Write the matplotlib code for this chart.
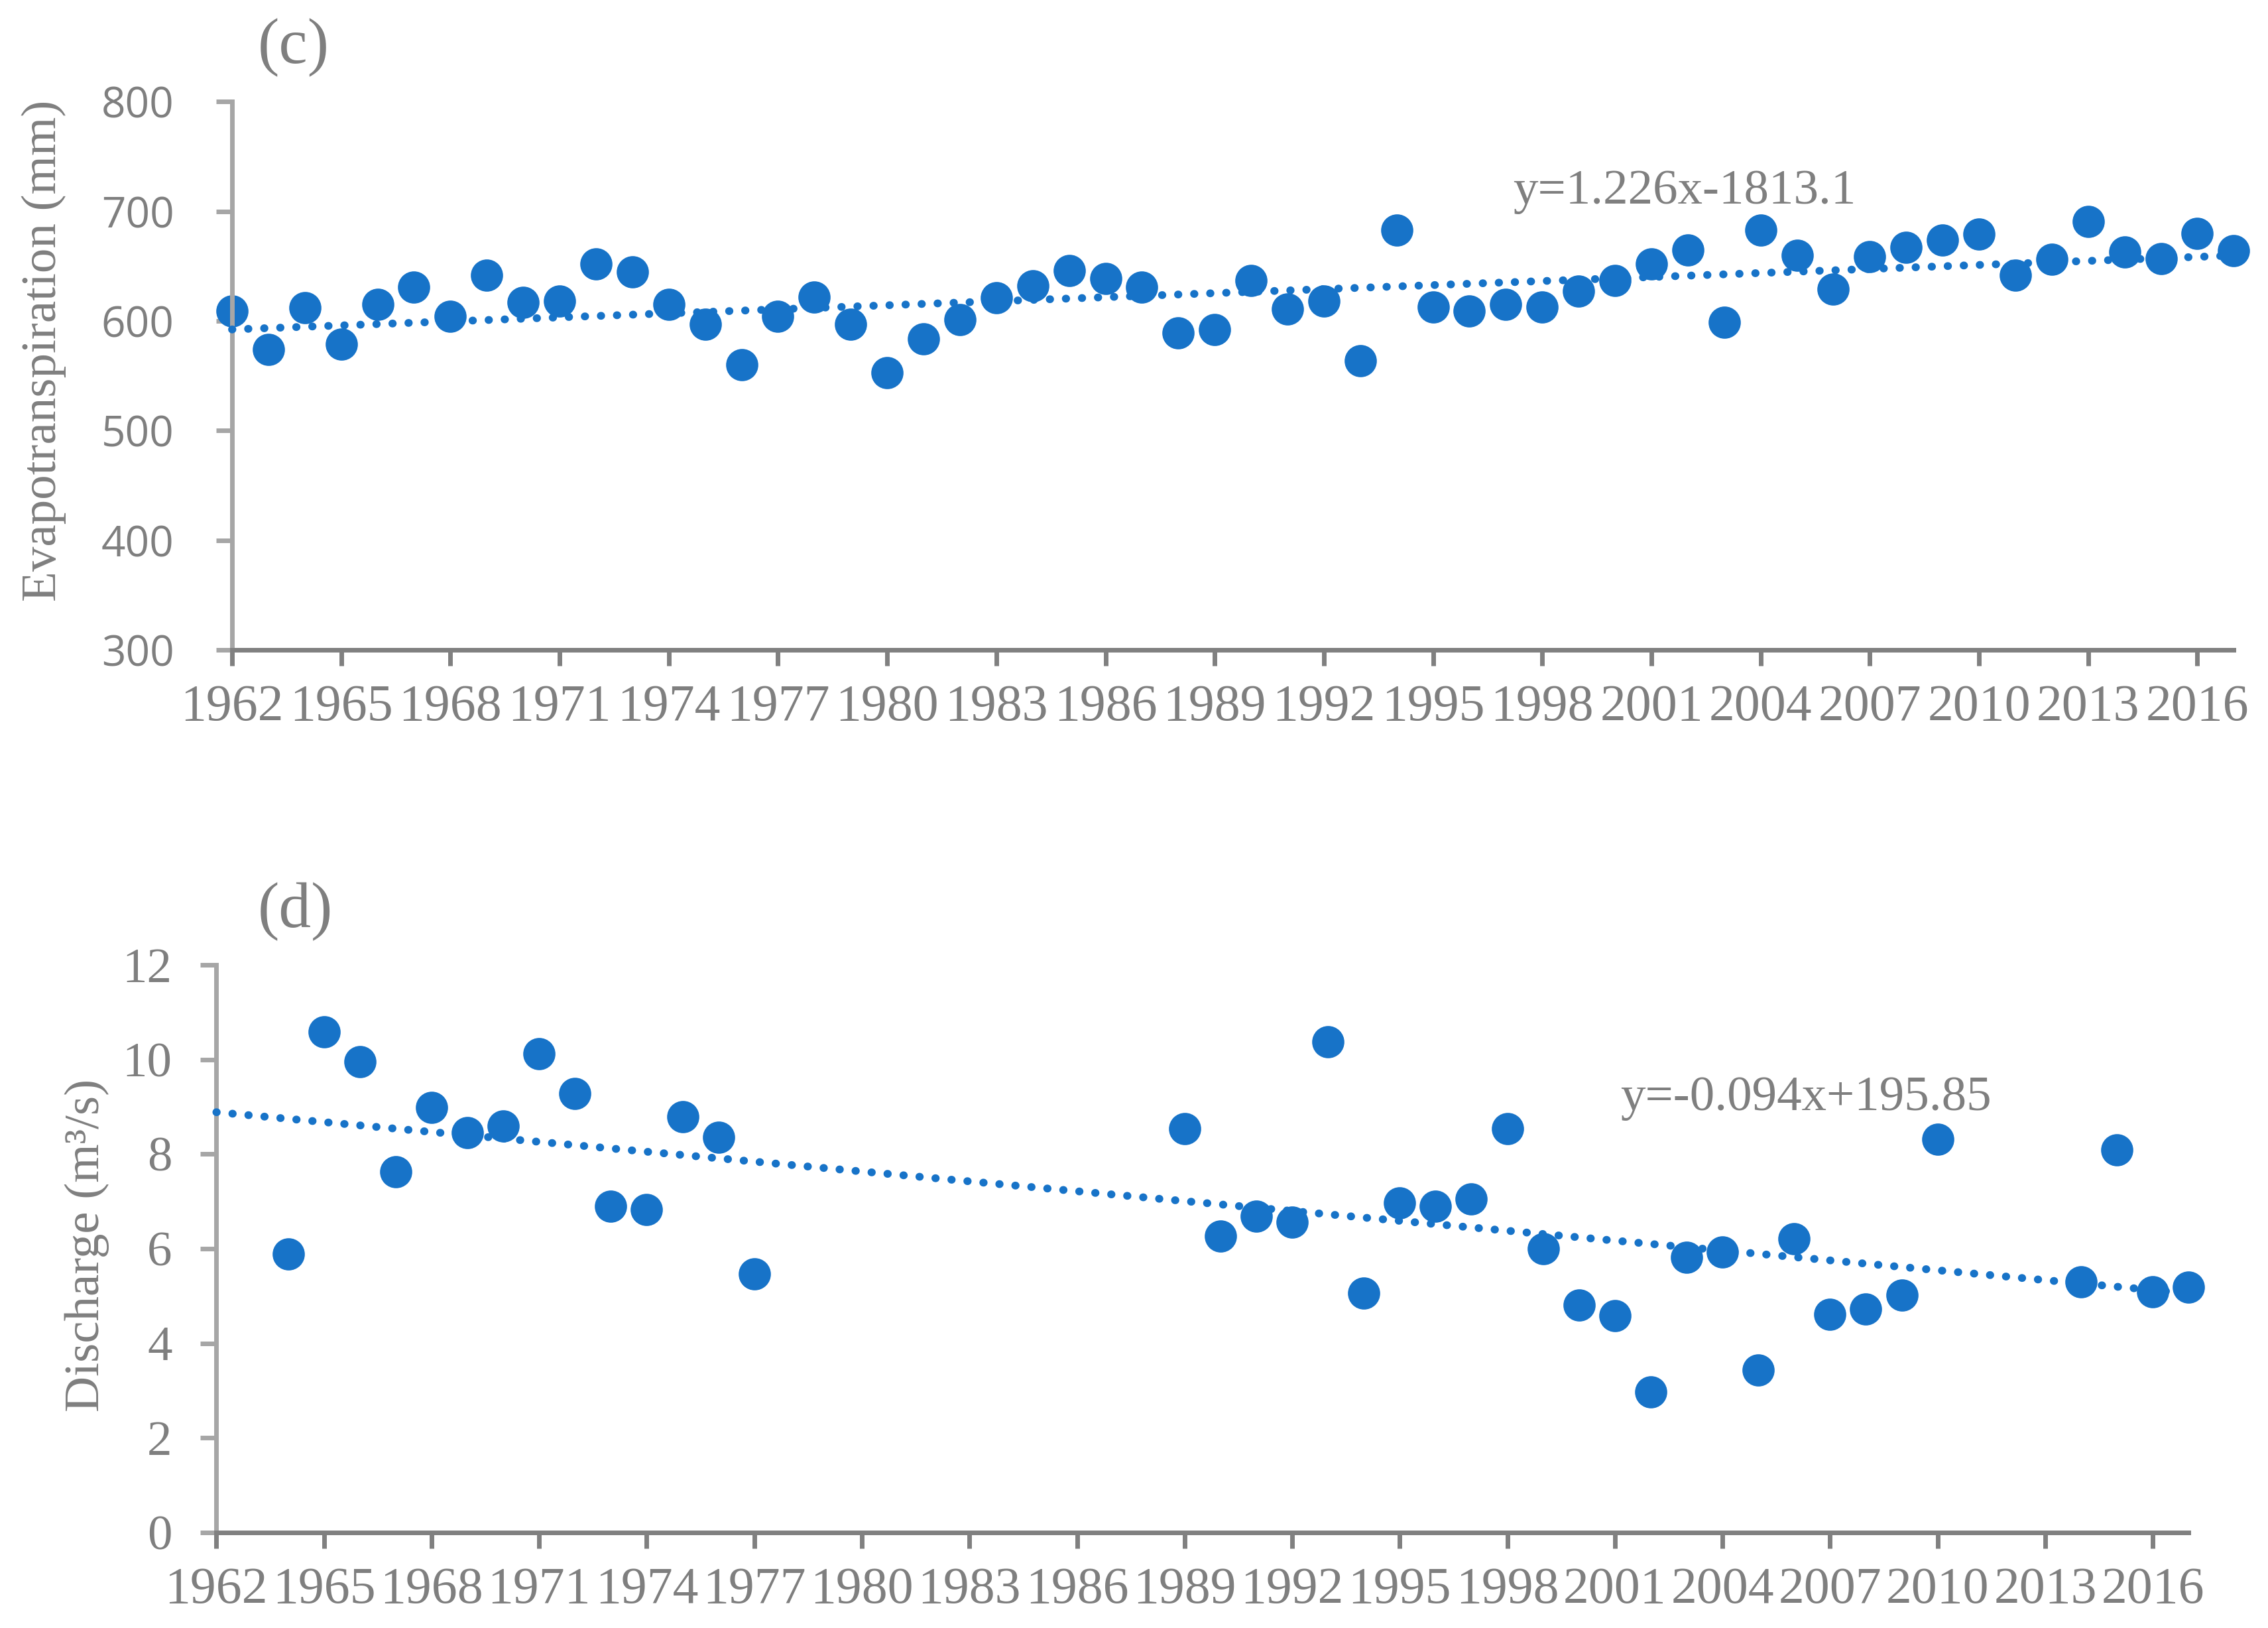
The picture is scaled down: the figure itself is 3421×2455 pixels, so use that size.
import numpy as np
import matplotlib
matplotlib.use('Agg')
import matplotlib.pyplot as plt

# evapotranspiration (mm), 1962-2017
et_years = list(range(1962, 2018))
et_values = [609, 574, 612, 579, 615, 631, 604, 642, 617, 618, 652, 645, 615, 597, 560,
             604, 622, 597, 553, 584, 601, 621, 632, 646, 639, 631, 589, 592, 637, 611,
             618, 564, 683, 613, 609, 615, 613, 627, 637, 652, 665, 599, 683, 660, 629,
             659, 667, 674, 679, 642, 656, 691, 663, 657, 680, 664]
# linear trend as printed on the chart (x = year)
et_slope, et_icpt = 1.226, -1813.1

# discharge (m3/s), years with data only
q_years = [1964, 1965, 1966, 1967, 1968, 1969, 1970, 1971, 1972, 1973, 1974, 1975, 1976, 1977,
           1989, 1990, 1991, 1992, 1993, 1994, 1995, 1996, 1997, 1998, 1999, 2000, 2001,
           2002, 2003, 2004, 2005, 2006, 2007, 2008, 2009, 2010, 2014, 2015, 2016, 2017]
q_values = [5.88, 10.58, 9.95, 7.62, 8.98, 8.45, 8.59, 10.12, 9.28, 6.90, 6.83, 8.79, 8.36, 5.46,
            8.53, 6.26, 6.68, 6.56, 10.37, 5.06, 6.96, 6.90, 7.05, 8.53, 6.00, 4.81, 4.58,
            2.97, 5.81, 5.93, 3.43, 6.21, 4.61, 4.72, 5.02, 8.31, 5.30, 8.08, 5.08, 5.18]

tick_years = list(range(1962, 2017, 3))

blue = '#1773C8'
grey_txt = '#7F7F7F'
grey_x = '#808080'
grey_y = '#A6A6A6'
serif = 'Liberation Serif'
sans = 'Open Sans'

fig = plt.figure(figsize=(34.21, 24.55), dpi=100)
ax1 = fig.add_axes([0.1023, 0.6008, 0.8826, 0.3367])
ax2 = fig.add_axes([0.0954, 0.0587, 0.8696, 0.3487])


def style(ax, ylim, yticks, yfont, ysize, ypad):
    ax.set_xlim(1962, 2017)
    ax.set_ylim(*ylim)
    ax.set_yticks(yticks)
    ax.set_xticks(tick_years)
    ax.set_xticklabels([str(y) for y in tick_years], family=serif, fontsize=56, color=grey_txt)
    ax.set_yticklabels([str(v) for v in yticks], family=yfont, fontsize=ysize, color=grey_txt)
    ax.spines['top'].set_visible(False)
    ax.spines['right'].set_visible(False)
    ax.spines['left'].set_color(grey_y)
    ax.spines['bottom'].set_color(grey_x)
    ax.spines['left'].set_linewidth(5)
    ax.spines['bottom'].set_linewidth(5)
    ax.tick_params(axis='x', direction='out', length=17, width=5, color=grey_x, pad=20)
    ax.tick_params(axis='y', direction='out', length=17, width=5, color=grey_y, pad=ypad)


def trend(ax, k, b):
    xx = np.array([1962, 2017])
    ax.plot(xx, k * xx + b, color=blue, lw=8.5, linestyle=(0, (0.05, 2.0)),
            dash_capstyle='round', clip_on=False, zorder=3)


# (c) evapotranspiration
ax1.plot(et_years, et_values, 'o', color=blue, ms=35, mec='none', clip_on=False, zorder=2)
trend(ax1, et_slope, et_icpt)
style(ax1, (300, 800), [300, 400, 500, 600, 700, 800], sans, 46, 46)

# (d) discharge, trend fitted to the plotted points
ax2.plot(q_years, q_values, 'o', color=blue, ms=35, mec='none', clip_on=False, zorder=2)
q_k, q_b = np.polyfit(q_years, q_values, 1)
trend(ax2, q_k, q_b)
style(ax2, (0, 12), [0, 2, 4, 6, 8, 10, 12], serif, 54, 31)

fig.text(0.0193, 0.7845, 'Evapotranspiration (mm)', rotation=90, ha='center', va='center',
         family=serif, fontsize=54, color=grey_txt)
fig.text(0.0383, 0.2350, 'Discharge (m³/s)', rotation=90, ha='center', va='center',
         family=serif, fontsize=54, color=grey_txt)

fig.text(0.1295, 0.9707, '(c)', ha='center', va='center', family=serif, fontsize=70, color=grey_txt)
fig.text(0.1301, 0.4399, '(d)', ha='center', va='center', family=serif, fontsize=70, color=grey_txt)

fig.text(0.6671, 0.8750, 'y=1.226x-1813.1', ha='left', va='baseline', family=serif,
         fontsize=54, color=grey_txt)
fig.text(0.7144, 0.3183, 'y=-0.094x+195.85', ha='left', va='baseline', family=serif,
         fontsize=54, color=grey_txt)

fig.savefig('out.png', dpi=100)
